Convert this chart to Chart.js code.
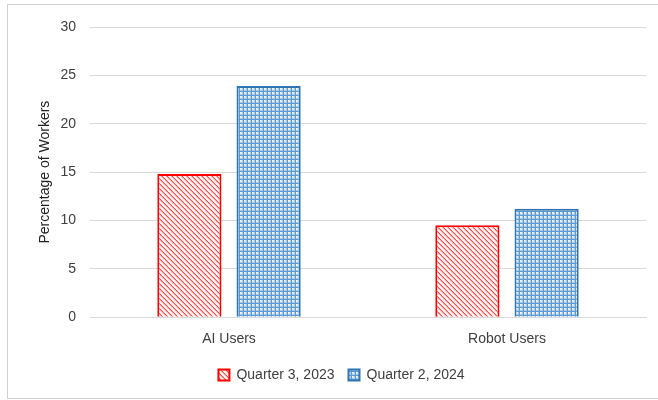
<!DOCTYPE html>
<html>
<head>
<meta charset="utf-8">
<script src="https://cdn.jsdelivr.net/npm/chart.js@4"></script>
<style>
    html, body { margin: 0; padding: 0; background: #fff; }
    #wrap { position: relative; width: 658px; height: 400px; }
</style>
</head>
<body>
<div id="wrap"><canvas id="usersChart" width="658" height="400"></canvas></div>
<script>
const categories = ['AI Users', 'Robot Users'];
const seriesLabels = ['Quarter 3, 2023', 'Quarter 2, 2024'];
const q3_2023 = [14.8, 9.5];
const q2_2024 = [23.9, 11.2];
const yTicks = [0, 5, 10, 15, 20, 25, 30];

// Small tile patterns for the bar fills
function hatchPattern() {
    const c = document.createElement('canvas');
    c.width = 5; c.height = 5;
    const g = c.getContext('2d');
    g.fillStyle = '#ffe8e8';
    g.fillRect(0, 0, 5, 5);
    for (let i = 0; i < 5; i++) {
        g.fillStyle = '#ffffff';
        g.fillRect((i + 3) % 5, i, 1, 1);
        g.fillStyle = '#ffa8a8';
        g.fillRect(i, i, 1, 1);
        g.fillStyle = '#ff4a4a';
        g.fillRect((i + 1) % 5, i, 1, 1);
    }
    return g.createPattern(c, 'repeat');
}

function checkPattern() {
    const c = document.createElement('canvas');
    c.width = 4; c.height = 4;
    const g = c.getContext('2d');
    g.fillStyle = '#a9cbea';
    g.fillRect(0, 0, 4, 4);
    g.fillStyle = '#e3eef9';
    g.fillRect(0, 0, 2, 2);
    g.fillStyle = '#ffffff';
    g.fillRect(0, 0, 1, 1);
    g.fillStyle = '#5b9bd5';
    g.fillRect(3, 0, 1, 4);
    g.fillRect(0, 3, 4, 1);
    return g.createPattern(c, 'repeat');
}

// Thin frame round the whole chart
const frame = {
    id: 'frame',
    afterDraw(chart) {
        const ctx = chart.ctx;
        ctx.save();
        ctx.strokeStyle = '#d0d0d0';
        ctx.lineWidth = 1;
        ctx.strokeRect(7.5, 4.5, 660, 394);
        ctx.restore();
    }
};

const font = { family: "'Liberation Sans', Arial, sans-serif", size: 14 };

new Chart(document.getElementById('usersChart'), {
    type: 'bar',
    data: {
        labels: categories,
        datasets: [
            {
                label: seriesLabels[0],
                data: q3_2023,
                backgroundColor: hatchPattern(),
                borderColor: '#ff0000',
                borderWidth: 2
            },
            {
                label: seriesLabels[1],
                data: q2_2024,
                backgroundColor: checkPattern(),
                borderColor: '#2e75b6',
                borderWidth: 2
            }
        ]
    },
    options: {
        responsive: false,
        animation: false,
        categoryPercentage: 0.57,
        barPercentage: 0.81,
        layout: { padding: { left: 37, right: 12, top: 27, bottom: 8 } },
        plugins: {
            tooltip: { enabled: false },
            legend: {
                position: 'bottom',
                labels: {
                    boxWidth: 11,
                    boxHeight: 11,
                    padding: 14,
                    color: '#404040',
                    font: font
                }
            }
        },
        scales: {
            x: {
                grid: { display: false },
                border: { color: '#d9d9d9', width: 1 },
                ticks: { color: '#404040', font: font, padding: 6 }
            },
            y: {
                min: 0,
                max: 30,
                afterBuildTicks(axis) { axis.ticks = yTicks.map(v => ({ value: v })); },
                afterFit(axis) { axis.width = 53; },
                grid: { color: '#d9d9d9', drawTicks: false },
                border: { display: false },
                ticks: { color: '#404040', font: font, padding: 14 },
                title: {
                    display: true,
                    text: 'Percentage of Workers',
                    color: '#222222',
                    font: font,
                    padding: 0
                }
            }
        }
    },
    plugins: [frame]
});
</script>
</body>
</html>
